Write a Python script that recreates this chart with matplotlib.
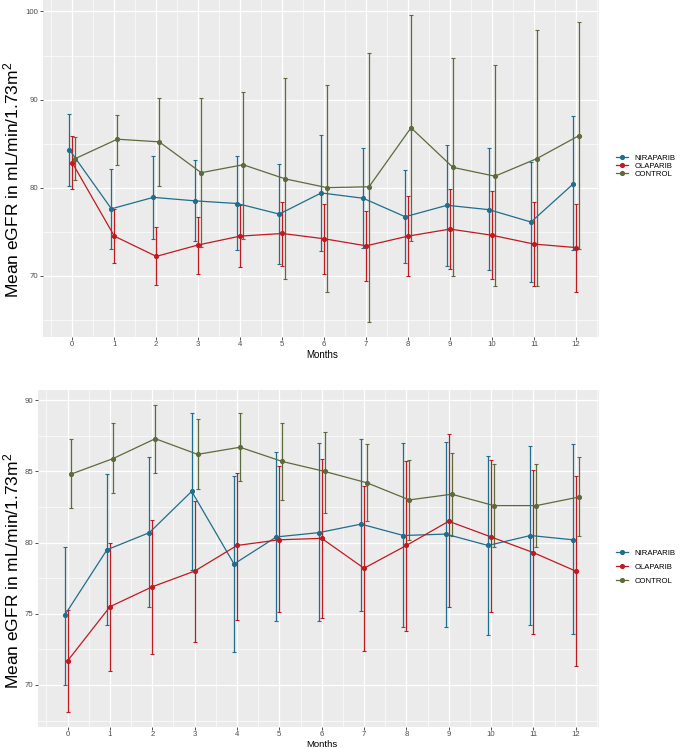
import matplotlib
matplotlib.use("Agg")
import matplotlib.pyplot as plt
from matplotlib.lines import Line2D
import numpy as np

plt.rcParams['font.family'] = ['Liberation Sans', 'DejaVu Sans']
plt.rcParams['mathtext.fontset'] = 'custom'
plt.rcParams['mathtext.rm'] = 'Liberation Sans'
plt.rcParams['mathtext.it'] = 'Liberation Sans:italic'

months = list(range(13))
groups = ["NIRAPARIB", "OLAPARIB", "CONTROL"]
colors = {"NIRAPARIB": "#1f6e8c", "OLAPARIB": "#c01a20", "CONTROL": "#5c6b3b"}
dodge = {"NIRAPARIB": -0.07, "OLAPARIB": 0.0, "CONTROL": 0.07}

# ---- top panel ----
top_nir_mean = [84.3, 77.6, 78.9, 78.5, 78.2, 77.0, 79.4, 78.8, 76.7, 78.0, 77.5, 76.1, 80.4]
top_nir_hi   = [88.4, 82.1, 83.6, 83.1, 83.6, 82.7, 86.0, 84.5, 82.0, 84.8, 84.5, 82.9, 88.1]
top_nir_lo   = [80.2, 73.0, 74.2, 73.9, 72.9, 71.3, 72.8, 73.2, 71.4, 71.1, 70.6, 69.3, 72.9]
top_ola_mean = [82.8, 74.5, 72.2, 73.5, 74.5, 74.8, 74.2, 73.4, 74.5, 75.3, 74.6, 73.6, 73.2]
top_ola_hi   = [85.9, 77.6, 75.5, 76.7, 78.0, 78.4, 78.1, 77.4, 79.1, 79.9, 79.6, 78.4, 78.2]
top_ola_lo   = [79.8, 71.4, 68.9, 70.2, 71.0, 71.1, 70.2, 69.4, 70.0, 70.8, 69.6, 68.8, 68.2]
top_con_mean = [83.3, 85.5, 85.2, 81.7, 82.6, 81.0, 80.0, 80.1, 86.8, 82.3, 81.3, 83.3, 85.9]
top_con_hi   = [85.8, 88.3, 90.2, 90.2, 90.9, 92.5, 91.7, 95.3, 99.6, 94.7, 93.9, 97.9, 98.8]
top_con_lo   = [80.9, 82.6, 80.2, 73.3, 74.2, 69.6, 68.2, 64.8, 74.0, 70.0, 68.8, 68.8, 73.0]

# ---- bottom panel ----
bot_nir_mean = [74.9, 79.5, 80.7, 83.6, 78.5, 80.4, 80.7, 81.3, 80.5, 80.6, 79.8, 80.5, 80.2]
bot_nir_hi   = [79.7, 84.8, 86.0, 89.1, 84.7, 86.4, 87.0, 87.3, 87.0, 87.1, 86.1, 86.8, 86.9]
bot_nir_lo   = [70.0, 74.2, 75.5, 78.1, 72.3, 74.5, 74.5, 75.2, 74.1, 74.1, 73.5, 74.2, 73.6]
bot_ola_mean = [71.7, 75.5, 76.9, 78.0, 79.8, 80.2, 80.3, 78.2, 79.8, 81.5, 80.4, 79.3, 78.0]
bot_ola_hi   = [75.3, 80.0, 81.6, 82.9, 84.9, 85.4, 85.9, 84.0, 85.7, 87.6, 85.8, 85.1, 84.7]
bot_ola_lo   = [68.1, 71.0, 72.2, 73.0, 74.6, 75.1, 74.7, 72.4, 73.8, 75.5, 75.1, 73.6, 71.3]
bot_con_mean = [84.8, 85.9, 87.3, 86.2, 86.7, 85.7, 85.0, 84.2, 83.0, 83.4, 82.6, 82.6, 83.2]
bot_con_hi   = [87.3, 88.4, 89.7, 88.7, 89.1, 88.4, 87.8, 86.9, 85.8, 86.3, 85.5, 85.5, 86.0]
bot_con_lo   = [82.4, 83.5, 84.9, 83.8, 84.3, 83.0, 82.1, 81.5, 80.2, 80.5, 79.7, 79.7, 80.5]

top_data = {
    "NIRAPARIB": (top_nir_mean, top_nir_lo, top_nir_hi),
    "OLAPARIB": (top_ola_mean, top_ola_lo, top_ola_hi),
    "CONTROL": (top_con_mean, top_con_lo, top_con_hi),
}
bot_data = {
    "NIRAPARIB": (bot_nir_mean, bot_nir_lo, bot_nir_hi),
    "OLAPARIB": (bot_ola_mean, bot_ola_lo, bot_ola_hi),
    "CONTROL": (bot_con_mean, bot_con_lo, bot_con_hi),
}

W, H = 684, 749
fig = plt.figure(figsize=(W / 100, H / 100), dpi=100)

def px_axes(l, t, r, b):
    return fig.add_axes([l / W, 1 - b / H, (r - l) / W, (b - t) / H])

ax_top = px_axes(43, 0, 599, 337)
ax_bot = px_axes(38, 390, 599, 727)

def draw(ax, data, ylim, yticks, minor):
    ax.set_facecolor("#ebebeb")
    for s in ax.spines.values():
        s.set_visible(False)
    for g in groups:
        mean, lo, hi = data[g]
        x = np.array(months) + dodge[g]
        mean = np.array(mean)
        yerr = [mean - np.array(lo), np.array(hi) - mean]
        ax.errorbar(x, mean, yerr=yerr, color=colors[g], lw=0.9, elinewidth=0.9,
                    capsize=1.3, capthick=0.8, marker='o', ms=2.7, zorder=3)
    ax.set_xlim(-0.7, 12.55)
    ax.set_ylim(*ylim)
    ax.set_xticks(months)
    ax.set_xticks(np.arange(-0.5, 12.6, 1.0), minor=True)
    ax.set_yticks(yticks)
    ax.set_yticks(minor, minor=True)
    ax.grid(True, which='major', color='white', lw=0.9, zorder=0)
    ax.grid(True, which='minor', color='white', lw=0.45, zorder=0)
    ax.set_axisbelow(True)
    ax.tick_params(which='major', length=2, width=0.6, color='#333333',
                   labelsize=5.6, labelcolor='#4d4d4d', pad=1.2)
    ax.tick_params(which='minor', length=0)

draw(ax_top, top_data, (63.05, 101.3), [70, 80, 90, 100], [65, 75, 85, 95])
draw(ax_bot, bot_data, (67.05, 90.72), [70, 75, 80, 85, 90], [67.5, 72.5, 77.5, 82.5, 87.5])

fig.text(322 / W, 1 - 355 / H, "Months", ha='center', va='center', fontsize=7)
fig.text(322 / W, 1 - 744.5 / H, "Months", ha='center', va='center', fontsize=6.8)

ylabel = r'Mean eGFR in mL/min/1.73m$^{\mathrm{2}}$'
fig.text(11 / W, 1 - 180 / H, ylabel, rotation=90, ha='center', va='center', fontsize=12.5)
fig.text(11 / W, 1 - 571 / H, ylabel, rotation=90, ha='center', va='center', fontsize=12.5)

handles = [Line2D([], [], color=colors[g], marker='o', ms=2.7, lw=0.9) for g in groups]
fig.legend(handles, groups, loc='center left', bbox_to_anchor=(612 / W, 1 - 166 / H),
           frameon=False, fontsize=5.6, handlelength=1.6, handletextpad=0.8,
           labelspacing=0.05, borderpad=0)
fig.legend(handles, groups, loc='center left', bbox_to_anchor=(612 / W, 1 - 567 / H),
           frameon=False, fontsize=5.6, handlelength=1.6, handletextpad=0.8,
           labelspacing=0.85, borderpad=0)

fig.savefig("out.png", dpi=100)
